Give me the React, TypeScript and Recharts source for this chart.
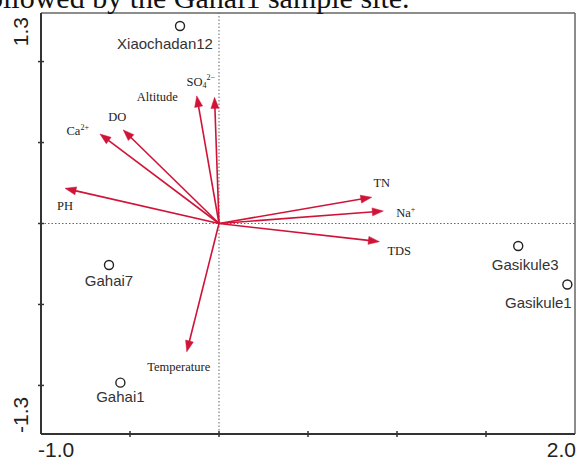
import React from 'react';
import { ScatterChart, Scatter, XAxis, YAxis, ReferenceLine } from 'recharts';

// ---- data ----
const sampleNames = ['Xiaochadan12', 'Gahai7', 'Gahai1', 'Gasikule3', 'Gasikule1'];
const sampleX = [-0.219, -0.618, -0.554, 1.681, 1.957];
const sampleY = [1.22, -0.256, -0.983, -0.139, -0.377];

const vectorNames = ['PH', 'Ca2+', 'DO', 'Altitude', 'SO42-', 'TN', 'Na+', 'TDS', 'Temperature'];
const vectorX = [-0.865, -0.669, -0.538, -0.125, -0.025, 0.858, 0.923, 0.901, -0.181];
const vectorY = [0.217, 0.553, 0.578, 0.788, 0.779, 0.162, 0.077, -0.112, -0.792];

const xTicks = [-1, -0.5, 0, 0.5, 1, 1.5, 2];
const yTicks = [-1.3, -1, -0.5, 0, 0.5, 1, 1.3];
const xTickLabels: Record<string, string> = { '-1': '-1.0', '2': '2.0' };
const yTickLabels: Record<string, string> = { '-1.3': '-1.3', '1.3': '1.3' };

const caption = 'followed by the Gahai1 sample site.';

// ---- label placement (pixel offsets) ----
const sampleLabelOffsets: Record<string, [number, number]> = {
  Xiaochadan12: [-15, 18],
  Gahai7: [0, 16],
  Gahai1: [0, 14],
  Gasikule3: [7, 18],
  Gasikule1: [-29, 18],
};
const vectorLabelOffsets: Record<string, [number, number, string]> = {
  PH: [0, 18, 'middle'],
  'Ca2+': [-11, -3, 'end'],
  DO: [-6, -13, 'middle'],
  Altitude: [-19, 1, 'end'],
  'SO42-': [-28, -15, 'start'],
  TN: [10, -14, 'middle'],
  'Na+': [13, 2, 'start'],
  TDS: [8, 9, 'start'],
  Temperature: [-8, 15, 'middle'],
};

const samples = sampleNames.map((n, i) => ({ name: n, x: sampleX[i], y: sampleY[i] }));
const vectors = vectorNames.map((n, i) => ({ name: n, x: vectorX[i], y: vectorY[i] }));

const RED = '#d01438';
const SERIF = '"Liberation Serif", "Times New Roman", serif';
const SANS = '"Liberation Sans", Arial, sans-serif';

function vectorLabelContent(name: string) {
  if (name === 'Ca2+')
    return (
      <>
        Ca<tspan dy={-4} fontSize={8}>2+</tspan>
      </>
    );
  if (name === 'SO42-')
    return (
      <>
        SO<tspan dy={3} fontSize={8}>4</tspan>
        <tspan dy={-8} fontSize={8}>2−</tspan>
      </>
    );
  if (name === 'Na+')
    return (
      <>
        Na<tspan dy={-4} fontSize={8}>+</tspan>
      </>
    );
  return name;
}

function makeArrow(name: string) {
  return (p: any) => {
    const { x1, y1, x2, y2 } = p;
    const dx = x2 - x1;
    const dy = y2 - y1;
    const len = Math.hypot(dx, dy) || 1;
    const ux = dx / len;
    const uy = dy / len;
    const headLen = 11;
    const headW = 4;
    const bx = x2 - ux * headLen;
    const by = y2 - uy * headLen;
    const pts = `${x2},${y2} ${bx - uy * headW},${by + ux * headW} ${bx + uy * headW},${by - ux * headW}`;
    const off = vectorLabelOffsets[name] || [0, 0, 'middle'];
    return (
      <g>
        <line x1={x1} y1={y1} x2={bx + ux * 2} y2={by + uy * 2} stroke={RED} strokeWidth={1.6} />
        <polygon points={pts} fill={RED} stroke={RED} strokeWidth={0.5} />
        <text
          x={x2 + off[0]}
          y={y2 + off[1]}
          textAnchor={off[2] as any}
          dominantBaseline="central"
          fontFamily={SERIF}
          fontSize={12.5}
          fill="#222"
        >
          {vectorLabelContent(name)}
        </text>
      </g>
    );
  };
}

const SampleShape = (props: any) => {
  const { cx, cy, payload } = props;
  const off = sampleLabelOffsets[payload.name] || [0, 16];
  return (
    <g>
      <circle cx={cx} cy={cy} r={4.5} fill="#fff" stroke="#222" strokeWidth={1.4} />
      <text
        x={cx + off[0]}
        y={cy + off[1]}
        textAnchor="middle"
        dominantBaseline="central"
        fontFamily={SANS}
        fontSize={15}
        fill="#333"
      >
        {payload.name}
      </text>
    </g>
  );
};

const XTick = (props: any) => {
  const { x, y, payload } = props;
  const key = String(payload.value);
  const label = xTickLabels[key];
  const isEnd = payload.value === -1 || payload.value === 2;
  return (
    <g>
      {!isEnd && <line x1={x} x2={x} y1={y - 3} y2={y + 3} stroke="#333" strokeWidth={1.5} />}
      {label && (
        <text
          x={payload.value === -1 ? x - 3 : x + 1}
          y={457}
          textAnchor={payload.value === -1 ? 'start' : 'end'}
          fontFamily={SANS}
          fontSize={21}
          fill="#222"
        >
          {label}
        </text>
      )}
    </g>
  );
};

const YTick = (props: any) => {
  const { x, y, payload } = props;
  const key = String(payload.value);
  const label = yTickLabels[key];
  const isEnd = Math.abs(payload.value) === 1.3;
  return (
    <g>
      {!isEnd && <line x1={x - 3} x2={x + 3} y1={y} y2={y} stroke="#333" strokeWidth={1.5} />}
      {label && (
        <text
          transform={`translate(28, ${payload.value > 0 ? y + 4 : y - 1}) rotate(-90)`}
          textAnchor={payload.value > 0 ? 'end' : 'start'}
          fontFamily={SANS}
          fontSize={21}
          fill="#222"
        >
          {label}
        </text>
      )}
    </g>
  );
};

export default function App() {
  return (
    <div style={{ position: 'absolute', left: 0, top: 0, width: 577, height: 461, overflow: 'hidden', background: '#fff' }}>
      <ScatterChart width={577} height={461} margin={{ top: 13, right: 2, bottom: 0, left: 0 }}>
        <XAxis
          type="number"
          dataKey="x"
          domain={[-1, 2]}
          ticks={xTicks}
          interval={0}
          allowDataOverflow
          height={27}
          tickSize={0}
          tickMargin={0}
          tickLine={false}
          axisLine={{ stroke: '#333', strokeWidth: 2 }}
          tick={<XTick />}
        />
        <YAxis
          type="number"
          dataKey="y"
          domain={[-1.3, 1.3]}
          ticks={yTicks}
          interval={0}
          allowDataOverflow
          width={41}
          tickSize={0}
          tickMargin={0}
          tickLine={false}
          axisLine={{ stroke: '#333', strokeWidth: 2 }}
          tick={<YTick />}
        />
        <ReferenceLine y={1.3} stroke="#666" strokeWidth={1.5} ifOverflow="visible" />
        <ReferenceLine x={2} stroke="#666" strokeWidth={1.5} ifOverflow="visible" />
        <ReferenceLine x={0} stroke="#666" strokeWidth={1} strokeDasharray="1.5 2" />
        <ReferenceLine y={0} stroke="#666" strokeWidth={1} strokeDasharray="1.5 2" />
        {vectors.map((v) => (
          <ReferenceLine
            key={v.name}
            segment={[{ x: 0, y: 0 }, { x: v.x, y: v.y }]}
            ifOverflow="visible"
            shape={makeArrow(v.name)}
          />
        ))}
        <Scatter data={samples} isAnimationActive={false} shape={<SampleShape />} />
      </ScatterChart>
      <svg width={577} height={20} style={{ position: 'absolute', left: 0, top: 0, pointerEvents: 'none' }}>
        <text x={-22} y={8} fontFamily={SERIF} fontSize={30} fill="#111">
          {caption}
        </text>
      </svg>
    </div>
  );
}
